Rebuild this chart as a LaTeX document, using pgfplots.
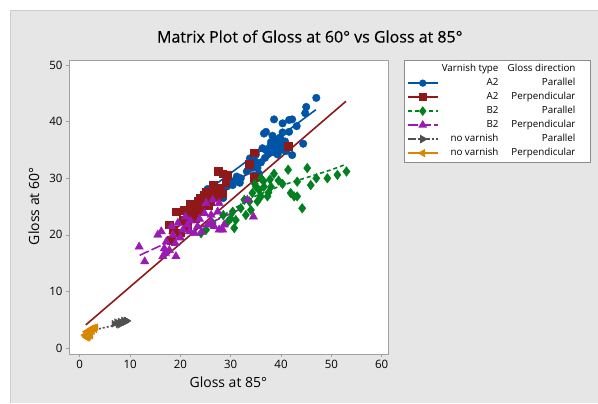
\documentclass[border=0pt]{standalone}
\usepackage{fontspec}
\setmainfont{Open Sans}
\newfontfamily\heavyfont[FakeBold=0.4]{Open Sans}
\usepackage{pgfplots}
\usepackage{pgfplotstable}
\pgfplotsset{compat=1.18}

\definecolor{mtblue}{RGB}{0,84,166}
\definecolor{mtred}{RGB}{145,24,24}
\definecolor{mtgreen}{RGB}{0,128,30}
\definecolor{mtpurple}{RGB}{155,25,180}
\definecolor{mtgray}{RGB}{80,80,80}
\definecolor{mtorange}{RGB}{215,135,0}
\definecolor{panel}{RGB}{230,230,230}
\definecolor{framegray}{RGB}{160,160,160}

% Gloss at 85 deg (x) and Gloss at 60 deg (y), one table per group
\pgfplotstableread{
x y
47.0 44.2
45.0 42.6
44.8 41.5
38.6 40.4
41.6 40.3
42.2 40.4
40.3 39.7
43.1 39.2
37.0 38.2
36.6 37.9
40.3 38.1
41.6 38.2
38.3 37.5
39.2 36.8
38.6 36.2
39.6 35.9
37.9 35.7
39.1 35.2
40.1 35.0
38.6 34.6
40.8 36.5
37.0 35.0
36.3 35.3
44.4 36.1
42.2 34.1
41.0 34.8
39.8 37.2
38.0 36.4
40.5 36.0
39.3 34.2
37.5 34.4
36.8 33.6
33.8 33.5
34.8 33.0
35.3 31.8
34.3 31.9
35.6 30.8
34.6 30.5
33.2 31.2
36.0 32.8
35.0 34.2
32.0 30.0
31.2 30.3
31.8 29.2
30.6 29.5
29.3 28.6
30.4 28.8
28.0 28.3
27.6 27.0
29.0 28.5
25.4 28.1
26.8 27.4
28.5 26.5
24.6 26.8
}\aparallel

\pgfplotstableread{
x y
41.4 35.7
34.7 34.5
33.7 32.5
34.7 30.2
27.4 31.3
28.4 30.8
27.6 31.3
29.4 30.6
29.0 29.2
27.7 28.2
25.7 27.6
24.8 27.1
27.4 26.8
26.0 26.0
28.4 27.4
25.1 27.6
23.4 25.0
22.4 24.1
21.8 23.5
24.2 24.4
25.5 25.3
19.1 24.1
17.8 21.8
18.5 20.9
18.2 19.1
20.6 22.6
21.3 21.5
23.0 23.0
19.9 20.4
22.0 25.5
26.5 28.8
24.0 26.5
26.8 27.9
23.6 26.0
20.8 24.3
}\aperp

\pgfplotstableread{
x y
53.0 31.2
51.2 30.6
49.2 30.0
47.0 30.0
45.9 28.8
45.2 31.8
43.2 29.4
41.4 31.5
41.9 27.4
42.6 26.8
43.2 26.8
44.2 24.7
38.6 30.8
39.5 29.6
40.3 29.0
38.0 28.5
36.6 28.5
35.0 28.5
35.6 27.9
34.3 27.4
36.0 26.8
37.3 26.8
35.3 25.9
33.7 25.9
32.7 26.2
32.0 24.7
34.0 24.4
33.0 23.5
30.4 24.1
31.0 22.6
30.0 22.9
29.4 22.3
30.7 21.2
26.4 22.1
25.1 20.9
24.1 20.3
36.5 29.5
37.5 27.5
34.8 29.0
28.5 23.5
36.0 30.0
37.8 29.8
}\bparallel

\pgfplotstableread{
x y
11.8 17.9
12.9 15.3
19.1 16.2
16.8 17.6
16.5 16.2
17.8 17.3
17.2 18.8
15.5 20.0
16.2 20.6
18.2 21.5
19.5 22.1
20.5 20.9
21.4 21.8
21.8 20.6
22.8 20.3
23.4 21.5
25.4 21.8
26.1 22.3
26.7 21.5
27.7 20.9
28.7 21.8
28.4 20.9
25.1 25.6
26.4 26.2
27.7 25.6
27.4 24.1
26.1 23.5
24.8 23.8
33.3 26.2
34.5 23.2
20.0 19.5
22.0 22.5
19.0 18.5
23.8 22.8
18.5 20.0
21.0 23.2
17.0 16.8
24.2 20.5
}\bperp

\pgfplotstableread{
x y
6.8 4.3
7.3 4.6
7.6 4.2
8.0 4.7
8.3 4.4
8.7 4.9
9.0 4.6
9.4 4.8
7.9 4.1
8.5 4.5
9.2 4.9
}\nparallel

\pgfplotstableread{
x y
1.2 2.0
1.4 2.4
1.6 2.8
1.8 3.1
2.1 3.3
2.4 3.5
2.8 3.6
3.2 3.7
1.0 2.3
1.5 1.8
2.0 2.6
2.5 3.0
3.0 3.3
1.3 2.9
2.2 2.2
1.8 2.0
}\nperp

\newcommand{\lgrow}[2]{\makebox[58pt][r]{#1}\makebox[77pt][r]{#2}\hspace*{10pt}}

\begin{document}
\begin{tikzpicture}[x=1pt,y=1pt]
% page background and grey panel
\fill[white] (0,0) rectangle (598,403);
\fill[panel] (10,0) rectangle (598,393);
\draw[black!20, line width=0.8pt] (10,0) -- (10,393) -- (598,393);

\begin{axis}[
  at={(69pt,49pt)}, anchor=south west,
  scale only axis, width=319pt, height=294pt,
  xmin=-2.15, xmax=61.2, ymin=-1.0, ymax=50.9,
  axis background/.style={fill=white},
  axis line style={framegray},
  xtick={0,10,...,60}, ytick={0,10,...,50},
  tick align=outside, xtick pos=bottom, ytick pos=left,
  major tick length=3pt,
  tick style={framegray, line width=0.6pt},
  ticklabel style={font=\fontsize{11.5}{12}\selectfont, text=black},
  /pgf/number format/assume math mode=true,
  clip=true,
  legend cell align=left,
  legend style={
    at={(1.0502,1.0)}, anchor=north west,
    draw=black!45, fill=white,
    font=\fontsize{9.8}{11}\selectfont,
    inner xsep=3pt, inner ysep=2pt,
    nodes={text height=7pt, text depth=2pt, inner ysep=2.5pt},
  },
  legend image code/.code={
    \draw[mark repeat=2, mark phase=2, #1]
      plot coordinates {(0pt,0pt) (15pt,0pt) (30pt,0pt)};
  },
]

% fitted lines for each group
\addplot[mtblue, line width=1.6pt, forget plot] coordinates {(25.0,27.6) (46.9,42.1)};
\addplot[mtred, line width=1.6pt, forget plot] coordinates {(17.7,20.2) (41.4,36.3)};
\addplot[mtgreen, line width=1.6pt, dash pattern=on 4pt off 3pt, forget plot]
  coordinates {(24.1,20.8) (30,24.3) (35,26.9) (40,28.7) (45,30.1) (50,31.5) (53,32.5)};
\addplot[mtpurple, line width=1.6pt, dash pattern=on 10pt off 3pt, forget plot]
  coordinates {(11.9,16.4) (33.0,25.0)};
\addplot[mtgray, line width=1.6pt, dash pattern=on 2pt off 2pt, forget plot]
  coordinates {(3.8,3.4) (9.8,4.6)};
\addplot[mtorange, line width=1.6pt, forget plot] coordinates {(1.0,2.0) (3.6,3.7)};

% observations
\addplot[only marks, mark=*, mark size=3.8pt, mtblue, mark options={draw=mtblue, fill=mtblue}, forget plot] table {\aparallel};
\addplot[only marks, mark=square*, mark size=3.9pt, mtred, mark options={draw=mtred, fill=mtred}, forget plot] table {\aperp};
\addplot[only marks, mark=diamond*, mark size=4.8pt, mtgreen, mark options={draw=mtgreen, fill=mtgreen}, forget plot] table {\bparallel};
\addplot[only marks, mark=triangle*, mark size=4.8pt, mtpurple, mark options={draw=mtpurple, fill=mtpurple}, forget plot] table {\bperp};
\addplot[only marks, mark=triangle*, mark size=4.0pt, mtgray, mark options={draw=mtgray, fill=mtgray, rotate=-90}, forget plot] table {\nparallel};
\addplot[only marks, mark=triangle*, mark size=4.0pt, mtorange, mark options={draw=mtorange, fill=mtorange, rotate=90}, forget plot] table {\nperp};

% overall fitted line
\addplot[mtred, line width=1.6pt, forget plot] coordinates {(1.2,4.1) (52.9,43.6)};

% legend
\addlegendimage{empty legend}
\addlegendentry{\lgrow{Varnish type}{Gloss direction}}
\addlegendimage{mtblue, line width=1.6pt, mark=*, mark size=2.8pt, mark options={solid}}
\addlegendentry{\lgrow{A2}{Parallel}}
\addlegendimage{mtred, line width=1.6pt, mark=square*, mark size=3.0pt, mark options={solid}}
\addlegendentry{\lgrow{A2}{Perpendicular}}
\addlegendimage{mtgreen, line width=1.6pt, dash pattern=on 4pt off 3pt, mark=diamond*, mark size=3.6pt, mark options={solid}}
\addlegendentry{\lgrow{B2}{Parallel}}
\addlegendimage{mtpurple, line width=1.6pt, dash pattern=on 10pt off 3pt, mark=triangle*, mark size=3.6pt, mark options={solid}}
\addlegendentry{\lgrow{B2}{Perpendicular}}
\addlegendimage{mtgray, line width=1.6pt, dash pattern=on 8pt off 2pt on 2pt off 2pt, mark=triangle*, mark size=3.4pt, mark options={solid, rotate=-90}}
\addlegendentry{\lgrow{no varnish}{Parallel}}
\addlegendimage{mtorange, line width=1.6pt, mark=triangle*, mark size=3.4pt, mark options={solid, rotate=90}}
\addlegendentry{\lgrow{no varnish}{Perpendicular}}
\end{axis}

% titles
\node[font=\heavyfont\fontsize{16}{18}\selectfont, text=black] at (310,366.5) {Matrix Plot of Gloss at 60° vs Gloss at 85°};
\node[font=\fontsize{14}{16}\selectfont, text=black] at (228.5,20) {Gloss at 85°};
\node[font=\fontsize{14}{16}\selectfont, text=black, rotate=90] at (34,196.5) {Gloss at 60°};
\end{tikzpicture}
\end{document}
